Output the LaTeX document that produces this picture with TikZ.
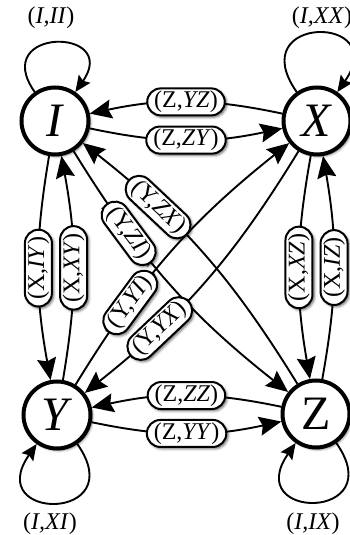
\documentclass[tikz,border=0pt]{standalone}
\usepackage{fontspec}
\setmainfont{Liberation Serif}
\usetikzlibrary{arrows.meta,shadows.blur}

\begin{document}
\begin{tikzpicture}[x=1pt,y=1pt,
  softshadow/.style={blur shadow={shadow xshift=1.8pt,shadow yshift=-1.8pt,
      shadow blur radius=2.5pt,shadow opacity=60}},
  state/.style={circle, draw, line width=4pt, fill=white, minimum size=67pt,
      inner sep=0pt, font=\fontsize{48}{50}\selectfont, softshadow},
  lbl/.style={rectangle, rounded corners=13.5pt, draw, line width=2pt, fill=white,
      minimum height=27pt, inner xsep=7pt, inner ysep=2pt,
      font=\fontsize{24}{26}\selectfont, softshadow},
  looptext/.style={font=\fontsize{24}{26}\selectfont, inner sep=0pt},
  tr/.style={line width=1.9pt, -{Stealth[length=22pt,width=19pt,inset=3pt]}},
  selfloop/.style={line width=1.9pt, -{Stealth[length=16pt,width=14pt,inset=2.5pt]}}
]
\useasboundingbox (0,0) rectangle (350,535);

% the four states
\node[state] (I) at (55,414) {\textit{I}};
\node[state] (X) at (317,414) {\textit{X}};
\node[state] (Y) at (57,120) {\textit{Y}};
\node[state] (Z) at (316,121) {Z};

% self loops
\draw[selfloop] (I) to[out=125,in=55,looseness=5]
  node[looptext,above=14pt,xshift=-4pt] (lII) {(\textit{I,II})} (I);
\draw[selfloop] (X) to[out=125,in=55,looseness=6]
  node[looptext,above=4pt,xshift=5pt] (lXX) {(\textit{I,XX})} (X);
\draw[selfloop] (Y) to[out=-55,in=-125,looseness=6]
  node[looptext,below=9pt,xshift=-7pt] (lXI) {(\textit{I,XI})} (Y);
\draw[selfloop] (Z) to[out=-55,in=-125,looseness=6]
  node[looptext,below=10pt,xshift=-3pt] (lIX) {(\textit{I,IX})} (Z);

% top pair
\draw[tr] (X) to[bend right=12] node[lbl] (lYZ) {(Z,\textit{YZ})} (I);
\draw[tr] (I) to[bend right=12] node[lbl] (lZY) {(Z,\textit{ZY})} (X);

% bottom pair
\draw[tr] (Z) to[bend right=12] node[lbl] (lZZ) {(Z,\textit{ZZ})} (Y);
\draw[tr] (Y) to[bend right=12] node[lbl] (lYY) {(Z,\textit{YY})} (Z);

% left pair
\draw[tr] (I) to[bend right=10] node[lbl,rotate=90] (lIY) {(X,\textit{IY})} (Y);
\draw[tr] (Y) to[bend right=10] node[lbl,rotate=90] (lXY) {(X,\textit{XY})} (I);

% right pair
\draw[tr] (X) to[bend right=10] node[lbl,rotate=90] (lXZ) {(X,\textit{XZ})} (Z);
\draw[tr] (Z) to[bend right=10] node[lbl,rotate=90] (lIZ) {(X,\textit{IZ})} (X);

% diagonals
\draw[tr] (I) to[bend right=10] node[lbl,sloped,pos=.29] (lZI) {(Y,\textit{ZI})} (Z);
\draw[tr] (Z) to[bend right=10] node[lbl,sloped,pos=.71] (lZX) {(Y,\textit{ZX})} (I);
\draw[tr] (Y) to[bend left=10] node[lbl,sloped,pos=.29] (lYI) {(Y,\textit{YI})} (X);
\draw[tr] (X) to[bend left=10] node[lbl,sloped,pos=.71] (lYX) {(Y,\textit{YX})} (Y);
\end{tikzpicture}
\end{document}
